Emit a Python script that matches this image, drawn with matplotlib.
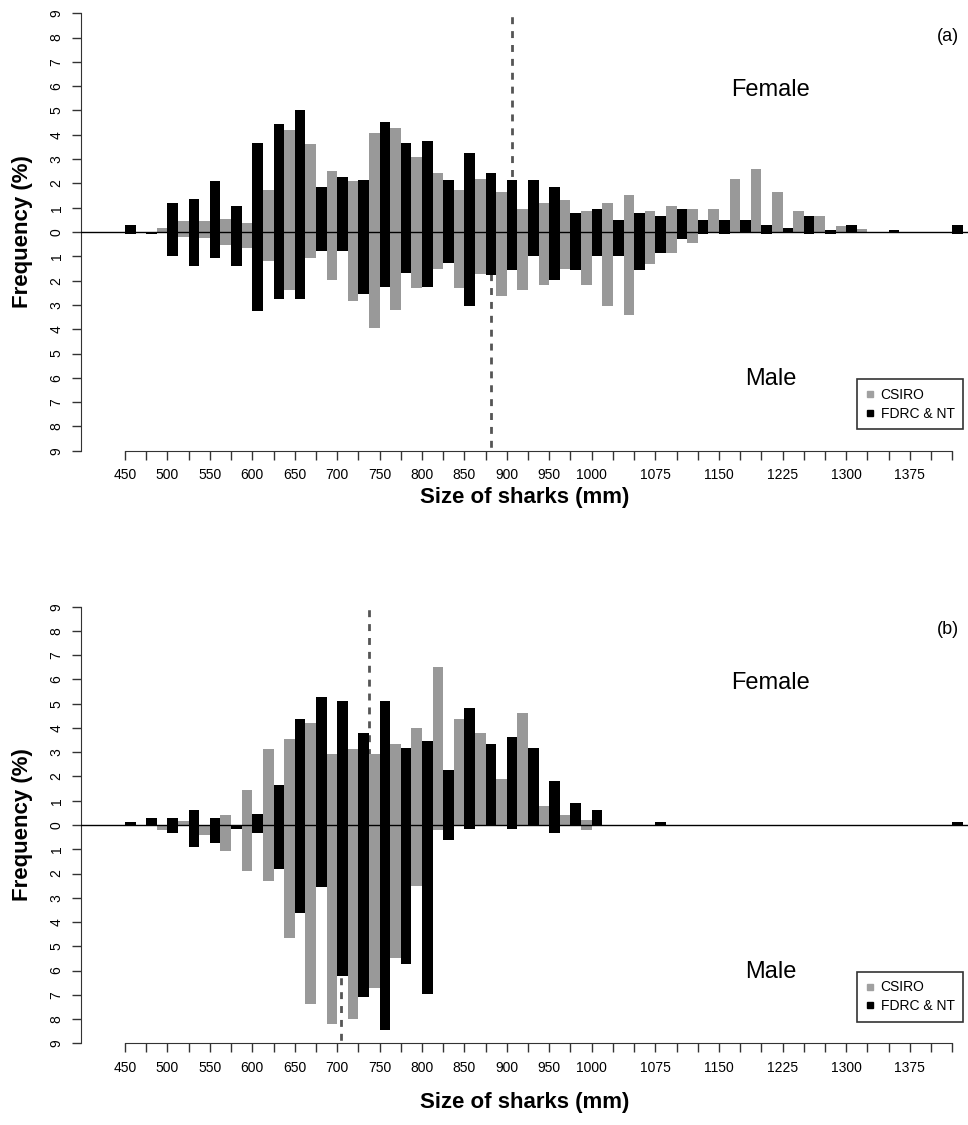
import numpy as np
import matplotlib
matplotlib.use('Agg')
import matplotlib.pyplot as plt
from matplotlib.lines import Line2D

plt.rcParams['font.family'] = ['Liberation Sans', 'DejaVu Sans']

# 25 mm 体长组（组中心）
bins = np.arange(450, 1426, 25)
tick_labels = {450: '450', 500: '500', 550: '550', 600: '600', 650: '650', 700: '700',
               750: '750', 800: '800', 850: '850', 900: '900', 950: '950', 1000: '1000',
               1075: '1075', 1150: '1150', 1225: '1225', 1300: '1300', 1375: '1375'}

# ---- (a) ----
a_csiro_f = [0, 0, 0.15, 0.46, 0.46, 0.53, 0.35, 1.74, 4.18, 3.63, 2.51, 2.08, 4.07, 4.28,
             3.07, 2.42, 1.74, 2.18, 1.64, 0.96, 1.19, 1.31, 0.88, 1.19, 1.53, 0.85, 1.08,
             0.96, 0.96, 2.18, 2.61, 1.64, 0.85, 0.64, 0.24, 0.12, 0, 0, 0, 0]
a_csiro_m = [0, 0, 0.05, 0.2, 0.25, 0.53, 0.64, 1.18, 2.4, 1.08, 1.97, 2.85, 3.96, 3.19,
             2.29, 1.53, 2.29, 1.74, 2.63, 2.4, 2.18, 1.53, 2.18, 3.06, 3.4, 1.32, 0.86,
             0.44, 0, 0, 0, 0, 0, 0, 0, 0, 0, 0, 0, 0]
a_fdrc_f = [0.3, 0, 1.19, 1.37, 2.08, 1.07, 3.65, 4.43, 5.03, 1.85, 2.25, 2.14, 4.54, 3.65,
            3.74, 2.14, 3.25, 2.44, 2.14, 2.14, 1.85, 0.79, 0.96, 0.49, 0.79, 0.67, 0.96,
            0.49, 0.49, 0.49, 0.3, 0.17, 0.67, 0.1, 0.3, 0, 0.07, 0, 0, 0.3]
a_fdrc_m = [0.1, 0.07, 0.97, 1.39, 1.08, 1.39, 3.26, 2.74, 2.74, 0.78, 0.78, 2.57, 2.26, 1.68,
            2.26, 1.28, 3.03, 1.79, 1.56, 0.97, 1.96, 1.56, 0.97, 0.97, 1.56, 0.86, 0.28,
            0.1, 0.1, 0, 0.1, 0, 0.1, 0.1, 0, 0, 0, 0, 0, 0.1]
a_mean_f, a_mean_m = 906, 881

# ---- (b) ----
b_csiro_f = [0, 0, 0, 0.17, 0, 0.4, 1.44, 3.14, 3.54, 4.22, 2.92, 3.14, 2.92, 3.36,
             3.99, 6.5, 4.39, 3.78, 1.89, 4.61, 0.8, 0.4, 0.2, 0, 0, 0, 0,
             0, 0, 0, 0, 0, 0, 0, 0, 0, 0, 0, 0, 0]
b_csiro_m = [0, 0, 0.2, 0, 0.43, 1.06, 1.9, 2.32, 4.64, 7.36, 8.22, 7.99, 6.74, 5.49,
             2.53, 0.2, 0, 0, 0, 0, 0, 0, 0.2, 0, 0, 0, 0,
             0, 0, 0, 0, 0, 0, 0, 0, 0, 0, 0, 0, 0]
b_fdrc_f = [0.14, 0.3, 0.3, 0.6, 0.3, 0, 0.44, 1.65, 4.39, 5.28, 5.13, 3.78, 5.13, 3.18,
            3.47, 2.25, 4.83, 3.32, 3.61, 3.18, 1.83, 0.89, 0.6, 0, 0, 0.14, 0,
            0, 0, 0, 0, 0, 0, 0, 0, 0, 0, 0, 0, 0.14]
b_fdrc_m = [0, 0, 0.32, 0.9, 0.76, 0.15, 0.32, 1.83, 3.63, 2.57, 6.22, 7.1, 8.47, 5.74,
            6.96, 0.63, 0.17, 0, 0.17, 0, 0.32, 0, 0, 0, 0, 0, 0,
            0, 0, 0, 0, 0, 0, 0, 0, 0, 0, 0, 0, 0]
b_mean_f, b_mean_m = 737, 705

GRAY = '#999999'
W, H = 968, 1125


def draw_panel(ax, cf, cm, ff, fm, mean_f, mean_m, tag, xlab_y):
    """背靠背直方图：雌性向上，雄性向下；灰=CSIRO（左），黑=FDRC & NT（右）。"""
    ax.plot([mean_f, mean_f], [0, 9], color='#555555', lw=2, ls=(0, (2.5, 2.5)), zorder=1)
    ax.plot([mean_m, mean_m], [0, -9], color='#555555', lw=2, ls=(0, (2.5, 2.5)), zorder=1)
    ax.bar(bins, cf, width=-12.5, align='edge', color=GRAY, lw=0, zorder=2)
    ax.bar(bins, -np.asarray(cm), width=-12.5, align='edge', color=GRAY, lw=0, zorder=2)
    ax.bar(bins, ff, width=12.5, align='edge', color='black', lw=0, zorder=2)
    ax.bar(bins, -np.asarray(fm), width=12.5, align='edge', color='black', lw=0, zorder=2)
    ax.axhline(0, color='black', lw=1, zorder=3)

    ax.set_xlim(398.1, 1443.5)
    ax.set_ylim(-9, 9)
    for s in ('top', 'right'):
        ax.spines[s].set_visible(False)
    ax.spines['left'].set_bounds(-9, 9)
    ax.spines['bottom'].set_bounds(450, 1425)
    ax.spines['left'].set_color('#333333')
    ax.spines['bottom'].set_color('#333333')

    ax.set_xticks(bins)
    ax.set_xticklabels([tick_labels.get(int(b), '') for b in bins], fontsize=10)
    yt = np.arange(-9, 10)
    ax.set_yticks(yt)
    ax.set_yticklabels([str(abs(v)) for v in yt], fontsize=10, rotation=90, va='center')
    ax.tick_params(axis='x', length=6.5, width=1, color='#333333', pad=6)
    ax.tick_params(axis='y', length=6.5, width=1, color='#333333', pad=6)

    ax.text(0.5, xlab_y, 'Size of sharks (mm)', transform=ax.transAxes, ha='center',
            va='center', fontsize=16, fontweight='bold')
    ax.text(-0.0658, 0.5, 'Frequency (%)', transform=ax.transAxes, ha='center',
            va='center', rotation=90, fontsize=16, fontweight='bold')

    ax.text(1211, 5.85, 'Female', ha='center', va='center', fontsize=17)
    ax.text(1211, -6.05, 'Male', ha='center', va='center', fontsize=17)
    ax.text(1433, 8.05, tag, ha='right', va='center', fontsize=13)

    handles = [Line2D([], [], marker='s', ls='none', color='#a0a0a0', markersize=4),
               Line2D([], [], marker='s', ls='none', color='black', markersize=4)]
    leg = ax.legend(handles, ['CSIRO', 'FDRC & NT'], loc='lower right',
                    bbox_to_anchor=(0.9944, 0.0496), borderaxespad=0, fontsize=10,
                    frameon=True, fancybox=False, handlelength=0.6, handletextpad=0.5,
                    labelspacing=0.35, borderpad=0.6)
    leg.get_frame().set_edgecolor('black')
    leg.get_frame().set_linewidth(1.2)


fig = plt.figure(figsize=(W / 100, H / 100), dpi=100)
ax_a = fig.add_axes([81 / W, 1 - 450.7 / H, 1 - 81 / W, 437.4 / H])
ax_b = fig.add_axes([81 / W, 1 - 1043.3 / H, 1 - 81 / W, 436.6 / H])

draw_panel(ax_a, a_csiro_f, a_csiro_m, a_fdrc_f, a_fdrc_m, a_mean_f, a_mean_m, '(a)', -0.108)
draw_panel(ax_b, b_csiro_f, b_csiro_m, b_fdrc_f, b_fdrc_m, b_mean_f, b_mean_m, '(b)', -0.135)

fig.savefig('out.png', dpi=100)
